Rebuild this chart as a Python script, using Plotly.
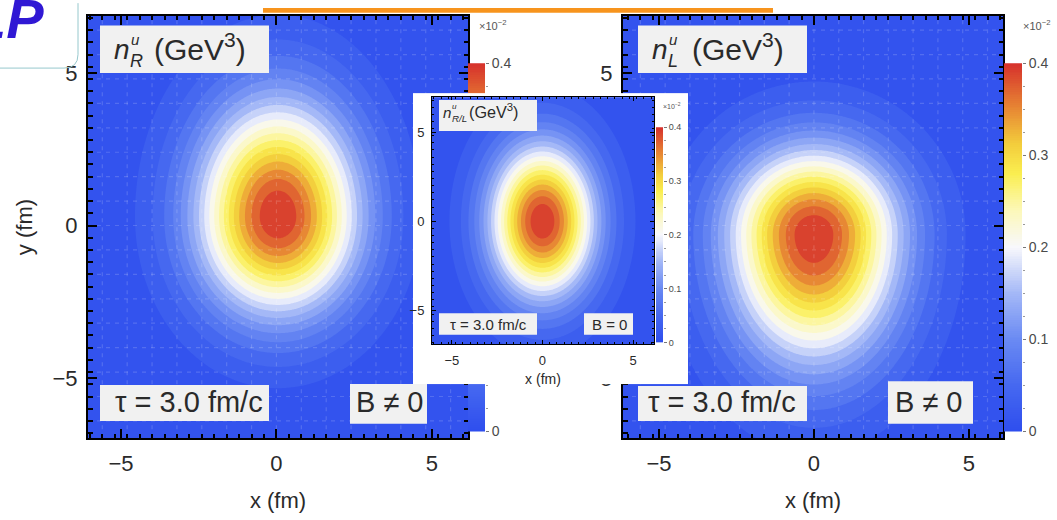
import numpy as np
import plotly.graph_objects as go

W, H = 1057, 520

# ---- density profiles (fm; values in units of 10^-2 GeV^3) ----
# index 0: n_R (B != 0), 1: n_L (B != 0), 2: n_R/L (B = 0)
peak = [0.399, 0.399, 0.399]
center_x = [0.05, 0.0, 0.0]
center_y = [0.30, -0.30, 0.0]
sigma_x = [1.88, 2.00, 2.10]
sigma_top = [2.70, 2.05, 3.10]
sigma_bottom = [2.30, 2.95, 3.10]

# axis / colorbar ticks
axis_ticks = [-5, 0, 5]
cbar_vals = [0, 0.1, 0.2, 0.3, 0.4]
cbar_text = ["0", "0.1", "0.2", "0.3", "0.4"]
grid_step = 0.8      # fm, faint frame grid of the main panels
minor_step = 0.4     # fm, minor frame ticks

# plot windows (fm)
x_range_left = [-6.06, 6.16]
x_range_right = [-6.16, 6.10]
x_range_inset = [-6.10, 6.16]
y_range_main = [-6.97, 6.87]
y_range_inset = [-6.90, 6.96]

temp_map = [
    [0.0, "rgb(46,78,238)"],
    [0.125, "rgb(70,104,240)"],
    [0.25, "rgb(106,138,243)"],
    [0.375, "rgb(164,184,247)"],
    [0.5, "rgb(248,248,252)"],
    [0.6, "rgb(252,248,185)"],
    [0.7, "rgb(250,238,80)"],
    [0.78, "rgb(243,205,60)"],
    [0.87, "rgb(232,140,52)"],
    [1.0, "rgb(214,48,44)"],
]

FONT = "Liberation Sans"
TXT = "#2a2a2a"


def px(x):
    return x / W


def py(y):
    return 1 - y / H


def density(i, xs, ys):
    X, Y = np.meshgrid(xs, ys)
    dx = X - center_x[i]
    dy = Y - center_y[i]
    sy = np.where(dy >= 0, sigma_top[i], sigma_bottom[i])
    return peak[i] * np.exp(-0.5 * ((dx / sigma_x[i]) ** 2 + (dy / sy) ** 2))


fig = go.Figure()


def density_map(i, xr, yr, xa, ya):
    xs = np.linspace(xr[0], xr[1], 260)
    ys = np.linspace(yr[0], yr[1], 280)
    fig.add_trace(go.Contour(
        x=xs, y=ys, z=density(i, xs, ys),
        colorscale=temp_map, zmin=0, zmax=0.4,
        contours=dict(start=0.0, end=0.4, size=0.02, coloring="fill", showlines=False),
        line=dict(width=0), showscale=False, hoverinfo="skip",
        xaxis=xa, yaxis=ya))


def faint_grid(xr, yr, xa, ya):
    # light dashed grid drawn over the filled contours
    gx, gy = [], []
    for v in np.arange(np.ceil(xr[0] / grid_step), np.floor(xr[1] / grid_step) + 1) * grid_step:
        gx += [v, v, None]
        gy += [yr[0], yr[1], None]
    for v in np.arange(np.ceil(yr[0] / grid_step), np.floor(yr[1] / grid_step) + 1) * grid_step:
        gx += [xr[0], xr[1], None]
        gy += [v, v, None]
    fig.add_trace(go.Scatter(x=gx, y=gy, mode="lines", hoverinfo="skip",
                             line=dict(color="rgba(255,255,255,0.16)", width=1.2, dash="4px,5px"),
                             xaxis=xa, yaxis=ya))


def colorbar_strip(xa, ya):
    vals = np.linspace(0, 0.4, 201)
    fig.add_trace(go.Heatmap(
        x=[0], y=vals, z=[[v] for v in vals],
        colorscale=temp_map, zmin=0, zmax=0.4, showscale=False,
        hoverinfo="skip", xaxis=xa, yaxis=ya))


# subplot order sets the stacking: main panels and their bars first,
# then the white inset card, then the inset plot on top
density_map(0, x_range_left, y_range_main, "x", "y")
faint_grid(x_range_left, y_range_main, "x", "y")
colorbar_strip("x2", "y2")
density_map(1, x_range_right, y_range_main, "x3", "y3")
faint_grid(x_range_right, y_range_main, "x3", "y3")
colorbar_strip("x4", "y4")
fig.add_trace(go.Scatter(x=[0, 1, 1, 0, 0], y=[0, 0, 1, 1, 0], mode="lines",
                         fill="toself", fillcolor="white", line=dict(width=0),
                         hoverinfo="skip", xaxis="x5", yaxis="y5"))
density_map(2, x_range_inset, y_range_inset, "x6", "y6")
colorbar_strip("x7", "y7")


def frame_axis(domain, rng, anchor, size, ticklen, lw, title=None, tsize=22, standoff=8):
    d = dict(domain=domain, range=rng, anchor=anchor, showline=True, linecolor="black",
             linewidth=lw, mirror="ticks", ticks="inside", ticklen=ticklen, tickwidth=lw,
             tickcolor="black", tickvals=axis_ticks, showgrid=False, zeroline=False,
             ticklabelstandoff=4, layer="above traces",
             tickfont=dict(family=FONT, size=size, color=TXT),
             minor=dict(ticks="inside", ticklen=ticklen * 0.5, tickwidth=max(1, lw * 0.75),
                        tickcolor="black", dtick=minor_step, tick0=0))
    if title:
        d["title"] = dict(text=title, font=dict(family=FONT, size=tsize, color=TXT), standoff=standoff)
    return d


def bar_axes(domx, domy, anchor_x, anchor_y, size):
    xa = dict(domain=domx, range=[-0.5, 0.5], anchor=anchor_y, visible=False)
    ya = dict(domain=domy, range=[0, 0.4], anchor=anchor_x, side="right", showline=False,
              ticks="outside", ticklen=3, tickwidth=1, tickcolor="#777", tickvals=cbar_vals,
              ticktext=cbar_text, showgrid=False, zeroline=False,
              tickfont=dict(family=FONT, size=size, color="#4a4a4a"),
              minor=dict(ticks="outside", ticklen=2, tickcolor="#999", dtick=0.025))
    return xa, ya


main_y = [py(444), py(8)]
fig.update_layout(
    width=W, height=H, margin=dict(l=0, r=0, t=0, b=0),
    paper_bgcolor="white", plot_bgcolor="white", showlegend=False,
    xaxis=frame_axis([px(88), px(468)], x_range_left, "y", 22, 9, 2, "x (fm)", 22, 18),
    yaxis=frame_axis(main_y, y_range_main, "x", 22, 9, 2, "y (fm)", 22, 14),
    xaxis3=frame_axis([px(623), px(1003)], x_range_right, "y3", 22, 9, 2, "x (fm)", 22, 18),
    yaxis3=frame_axis(main_y, y_range_main, "x3", 22, 9, 2),
    xaxis5=dict(domain=[px(413), px(688)], range=[0, 1], anchor="y5", visible=False),
    yaxis5=dict(domain=[py(388), py(88)], range=[0, 1], anchor="x5", visible=False),
    xaxis6=frame_axis([px(432), px(654)], x_range_inset, "y6", 13, 4, 1, "x (fm)", 14, 7),
    yaxis6=frame_axis([py(347), py(92)], y_range_inset, "x6", 13, 4, 1),
)
xa2, ya2 = bar_axes([px(468), px(485)], [py(437), py(57)], "x2", "y2", 14)
xa4, ya4 = bar_axes([px(1004), px(1022)], [py(437), py(57)], "x4", "y4", 14)
xa7, ya7 = bar_axes([px(656), px(663)], [py(345), py(123)], "x7", "y7", 9)
fig.update_layout(xaxis2=xa2, yaxis2=ya2, xaxis4=xa4, yaxis4=ya4, xaxis7=xa7, yaxis7=ya7)

shapes = []
annotations = []


def box(x0, y0, x1, y1, fill="rgb(241,241,241)"):
    shapes.append(dict(type="rect", xref="paper", yref="paper", x0=px(x0), x1=px(x1),
                       y0=py(y1), y1=py(y0), fillcolor=fill, line=dict(width=0), layer="above"))


def text(x, baseline, s, size, xanchor="center", italic=False, color=TXT, family=FONT):
    if italic:
        s = "<i>" + s + "</i>"
    annotations.append(dict(x=px(x), y=py(baseline + 0.212 * size + 2), xref="paper", yref="paper",
                            text=s, showarrow=False, xanchor=xanchor, yanchor="bottom",
                            font=dict(family=family, size=size, color=color)))


def density_label(x0, base, sub, scale):
    # n with stacked super/subscript, then (GeV^3)
    text(x0, base, "n", 28 * scale, "left", italic=True)
    text(x0 + 17 * scale, base - 15 * scale, "u", 15 * scale, "left", italic=True)
    text(x0 + 16 * scale, base + 8 * scale, sub, 18 * scale, "left", italic=True)
    text(x0 + 40 * scale * (1.0 if len(sub) == 1 else 1.2), base + 1 * scale,
         "(GeV<sup>3</sup>)", 30 * scale, "left")


# left main panel
box(100, 18, 269, 67)
density_label(112, 53, "R", 1.0)
box(100, 389, 269, 426)
text(188.5, 417, "τ = 3.0 fm/c", 29)
box(350, 388, 427, 429)
text(390, 417, "B ≠ 0", 29)

# right main panel
box(638, 18, 807, 67)
density_label(650, 53, "L", 1.0)
box(638, 390, 807, 426)
text(722, 417, "τ = 3.0 fm/c", 29)
box(888, 385, 973, 429)
text(929, 417, "B ≠ 0", 29)

# inset
box(439, 95, 537, 127)
density_label(441, 113, "R/L", 0.54)
box(439, 315, 537, 337)
text(488.5, 332, "τ = 3.0 fm/c", 15)
box(584, 315, 633, 337)
text(609.5, 332, "B = 0", 15)

# colorbar multipliers
text(477, 22, "×10<sup>−2</sup>", 11, "left", color="#555")
text(1021, 22, "×10<sup>−2</sup>", 11, "left", color="#555")
text(661, 104, "×10<sup>−2</sup>", 7, "left", color="#555")

# header decorations
shapes.append(dict(type="rect", xref="paper", yref="paper", x0=px(263), x1=px(773),
                   y0=py(5), y1=py(0), fillcolor="#f7941d", line=dict(width=0), layer="above"))
r = 14
shapes.append(dict(type="path", xref="paper", yref="paper",
                   path=f"M {px(-5)},{py(62)} L {px(78 - r)},{py(62)} "
                        f"Q {px(78)},{py(62)} {px(78)},{py(62 - r)} L {px(78)},{py(-5)}",
                   line=dict(color="rgb(150,200,205)", width=1), layer="above"))
text(46, 32, "<b>LP</b>", 56, "right", italic=True, color="#3018d4")

fig.update_layout(shapes=shapes, annotations=annotations)
fig.write_html("out.html")
